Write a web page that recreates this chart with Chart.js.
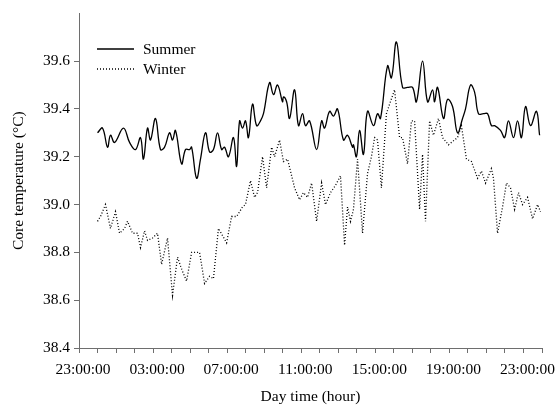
<!DOCTYPE html>
<html>
<head>
<meta charset="utf-8">
<script src="https://cdn.jsdelivr.net/npm/chart.js@4/dist/chart.umd.min.js"></script>
<style>
  html, body { margin: 0; padding: 0; background: #fff; }
  #wrap { width: 557px; height: 406px; }
</style>
</head>
<body>
<div id="wrap"><canvas id="chart" width="557" height="406"></canvas></div>
<script>
// hours after midnight
const summerHours = [0.00, 0.27, 0.54, 0.70, 0.92, 1.40, 1.73, 2.05, 2.32, 2.48, 2.70, 2.86, 3.13, 3.40, 3.62, 3.89,
  4.05, 4.21, 4.54, 4.75, 4.97, 5.08, 5.35, 5.56, 5.83, 6.05, 6.26, 6.48, 6.70, 6.86, 7.07, 7.34, 7.51, 7.67, 7.83,
  7.99, 8.15, 8.37, 8.59, 8.80, 8.96, 9.29, 9.50, 9.72, 9.99, 10.04, 10.21, 10.37, 10.64, 10.85, 11.07, 11.23, 11.45,
  11.83, 12.10, 12.26, 12.53, 12.74, 12.96, 13.28, 13.50, 13.77, 13.82, 13.98, 14.15, 14.36, 14.58, 14.90, 15.12,
  15.28, 15.66, 15.87, 16.14, 16.47, 16.74, 17.01, 17.22, 17.55, 17.82, 18.09, 18.20, 18.36, 18.68, 18.90, 19.17,
  19.44, 19.71, 19.87, 20.14, 20.36, 20.57, 20.84, 21.06, 21.27, 21.44, 21.76, 21.98, 22.19, 22.46, 22.68, 22.89,
  23.11, 23.38, 23.70, 23.87];
const summerTemps = [39.30, 39.32, 39.24, 39.29, 39.26, 39.32, 39.26, 39.23, 39.28, 39.19, 39.32, 39.27, 39.36, 39.23,
  39.24, 39.30, 39.27, 39.31, 39.17, 39.23, 39.23, 39.24, 39.11, 39.19, 39.30, 39.22, 39.23, 39.30, 39.23, 39.24,
  39.20, 39.28, 39.16, 39.35, 39.32, 39.35, 39.28, 39.42, 39.33, 39.35, 39.38, 39.51, 39.46, 39.50, 39.43, 39.45,
  39.43, 39.36, 39.48, 39.33, 39.38, 39.33, 39.35, 39.23, 39.35, 39.32, 39.39, 39.37, 39.40, 39.27, 39.29, 39.24,
  39.25, 39.20, 39.31, 39.21, 39.39, 39.33, 39.38, 39.36, 39.58, 39.53, 39.68, 39.49, 39.49, 39.49, 39.43, 39.60,
  39.43, 39.48, 39.43, 39.49, 39.36, 39.44, 39.41, 39.30, 39.36, 39.40, 39.50, 39.47, 39.38, 39.38, 39.38, 39.33,
  39.33, 39.31, 39.28, 39.35, 39.28, 39.35, 39.28, 39.41, 39.33, 39.39, 39.29];

const winterHours = [0.00, 0.16, 0.43, 0.70, 0.97, 1.19, 1.46, 1.62, 1.89, 2.16, 2.32, 2.54, 2.70, 2.97, 3.24, 3.46,
  3.78, 4.05, 4.32, 4.54, 4.81, 5.08, 5.51, 5.78, 6.05, 6.26, 6.53, 6.97, 7.24, 7.51, 7.83, 7.99, 8.26, 8.48, 8.64,
  8.91, 9.13, 9.40, 9.56, 9.83, 10.04, 10.26, 10.42, 10.64, 10.91, 11.12, 11.34, 11.56, 11.83, 12.10, 12.31, 12.58,
  12.85, 13.12, 13.34, 13.50, 13.66, 13.82, 14.04, 14.31, 14.58, 14.79, 14.96, 15.12, 15.33, 15.60, 15.77, 16.04,
  16.31, 16.47, 16.74, 16.95, 17.12, 17.39, 17.55, 17.71, 17.93, 18.14, 18.41, 18.63, 18.95, 19.44, 19.65, 19.92,
  20.19, 20.52, 20.73, 20.95, 21.27, 21.38, 21.60, 21.87, 22.08, 22.30, 22.52, 22.73, 22.95, 23.22, 23.49, 23.76,
  23.92];
const winterTemps = [38.93, 38.95, 39.00, 38.90, 38.97, 38.88, 38.90, 38.93, 38.88, 38.88, 38.82, 38.89, 38.85, 38.86,
  38.88, 38.75, 38.86, 38.62, 38.78, 38.73, 38.68, 38.80, 38.80, 38.67, 38.70, 38.69, 38.90, 38.84, 38.95, 38.95,
  38.99, 39.00, 39.10, 39.03, 39.05, 39.20, 39.07, 39.24, 39.20, 39.27, 39.18, 39.19, 39.14, 39.07, 39.02, 39.05,
  39.03, 39.09, 38.93, 39.09, 39.00, 39.05, 39.08, 39.12, 38.83, 38.99, 38.93, 38.98, 39.19, 38.88, 39.13, 39.20,
  39.28, 39.27, 39.07, 39.38, 39.42, 39.48, 39.28, 39.28, 39.17, 39.35, 39.35, 38.98, 39.21, 38.93, 39.35, 39.29,
  39.36, 39.28, 39.25, 39.28, 39.33, 39.19, 39.18, 39.11, 39.14, 39.09, 39.15, 39.11, 38.88, 38.99, 39.09, 39.07,
  38.98, 39.05, 39.00, 39.03, 38.94, 39.00, 38.97];

const seriesNames = ['Summer', 'Winter'];
const labelEvery = 4; // a clock label every 4 hours, starting at 23:00

const serif = "'Liberation Serif', 'Times New Roman', serif";
const axisGrey = '#6e6e6e';

function toPoints(hours, temps) {
  return hours.map((h, i) => ({ x: h, y: temps[i] }));
}

function clockLabel(h) {
  const hh = ((Math.round(h) % 24) + 24) % 24;
  return String(hh).padStart(2, '0') + ':00:00';
}

const legendPlugin = {
  id: 'insideLegend',
  afterDraw(chart) {
    const ctx = chart.ctx;
    ctx.save();
    chart.data.datasets.forEach((ds, i) => {
      const y = 49 + i * 20;
      ctx.beginPath();
      ctx.setLineDash(ds.borderDash || []);
      ctx.lineWidth = ds.borderWidth;
      ctx.strokeStyle = ds.borderColor;
      ctx.moveTo(97, y);
      ctx.lineTo(134, y);
      ctx.stroke();
      ctx.setLineDash([]);
      ctx.fillStyle = '#000';
      ctx.font = `15.5px ${serif}`;
      ctx.textBaseline = 'middle';
      ctx.fillText(ds.label, 143, y + 1);
    });
    ctx.restore();
  },
};

new Chart(document.getElementById('chart'), {
  type: 'line',
  data: {
    datasets: [
      {
        label: seriesNames[0],
        data: toPoints(summerHours, summerTemps),
        borderColor: '#000',
        borderWidth: 1.3,
        pointRadius: 0,
        tension: 0.4,
        fill: false,
      },
      {
        label: seriesNames[1],
        data: toPoints(winterHours, winterTemps),
        borderColor: '#000',
        borderWidth: 1.3,
        borderDash: [1, 2],
        pointRadius: 0,
        tension: 0,
        fill: false,
      },
    ],
  },
  options: {
    responsive: false,
    animation: false,
    layout: { padding: { top: 12, right: 15, left: 0, bottom: 0 } },
    plugins: { legend: { display: false }, tooltip: { enabled: false } },
    scales: {
      x: {
        type: 'linear',
        min: -1,
        max: 24,
        afterFit: (scale) => { scale.height = 58; },
        border: { display: true, color: axisGrey, width: 1 },
        grid: { display: true, drawOnChartArea: false, drawTicks: true, tickLength: 5, color: axisGrey },
        ticks: {
          stepSize: 1,
          autoSkip: false,
          maxRotation: 0,
          padding: 8,
          labelOffset: 4,
          color: '#000',
          font: { family: serif, size: 15.5 },
          callback: (v) => ((v + 1) % labelEvery === 0 ? clockLabel(v) : ''),
        },
        title: {
          display: true,
          text: 'Day time (hour)',
          color: '#000',
          font: { family: serif, size: 15.5 },
          padding: { top: 0, bottom: 0 },
        },
      },
      y: {
        min: 38.4,
        max: 39.8,
        afterFit: (scale) => { scale.width = 79; },
        border: { display: true, color: axisGrey, width: 1 },
        grid: {
          display: true,
          drawOnChartArea: false,
          drawTicks: true,
          tickLength: 5,
          color: (c) => (c.tick && c.tick.value > 39.7 ? 'rgba(0,0,0,0)' : axisGrey),
        },
        ticks: {
          stepSize: 0.2,
          padding: 4,
          color: '#000',
          font: { family: serif, size: 15.5 },
          callback: (v) => (v > 39.7 ? '' : v.toFixed(1)),
        },
        title: {
          display: true,
          text: 'Core temperature (°C)',
          color: '#000',
          font: { family: serif, size: 15.5 },
          padding: { top: 10, bottom: 0 },
        },
      },
    },
  },
  plugins: [legendPlugin],
});
</script>
</body>
</html>
